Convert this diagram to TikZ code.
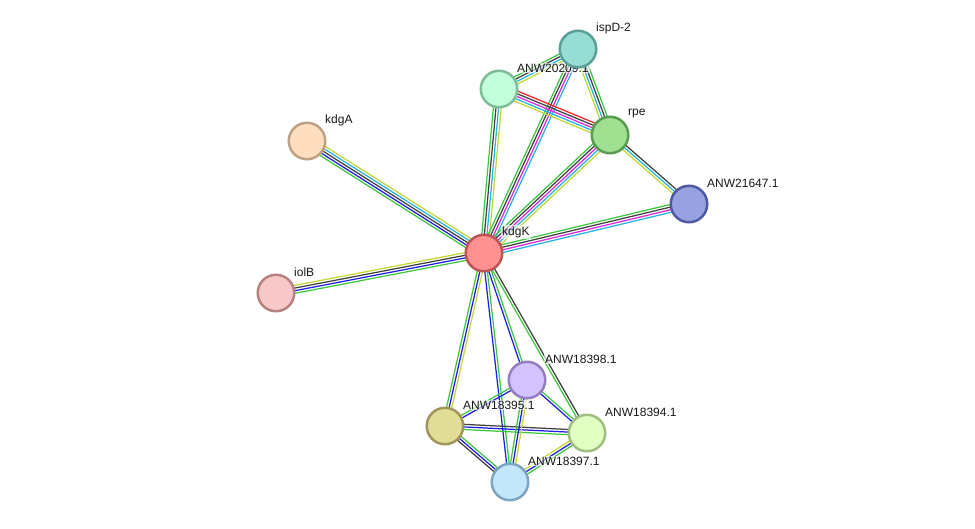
\documentclass[tikz,border=0pt]{standalone}
\usepackage{fontspec}
\setmainfont{Liberation Sans}
\usetikzlibrary{calc}
\definecolor{edgegreen}{RGB}{62,200,62}
\definecolor{edgeblue}{RGB}{30,30,235}
\definecolor{edgedark}{RGB}{65,65,65}
\definecolor{edgecyan}{RGB}{35,180,230}
\definecolor{edgemagenta}{RGB}{220,40,220}
\definecolor{edgeyellow}{RGB}{195,215,50}
\definecolor{edgered}{RGB}{245,35,35}
\definecolor{kdgkfill}{RGB}{255,145,145}
\definecolor{kdgkline}{RGB}{190,85,85}
\definecolor{ispdfill}{RGB}{150,222,212}
\definecolor{ispdline}{RGB}{90,160,150}
\definecolor{anwafill}{RGB}{195,255,220}
\definecolor{anwaline}{RGB}{125,190,150}
\definecolor{rpefill}{RGB}{160,225,145}
\definecolor{rpeline}{RGB}{90,155,80}
\definecolor{anwbfill}{RGB}{152,162,225}
\definecolor{anwbline}{RGB}{80,90,160}
\definecolor{kdgafill}{RGB}{255,222,192}
\definecolor{kdgaline}{RGB}{190,160,130}
\definecolor{iolbfill}{RGB}{248,200,200}
\definecolor{iolbline}{RGB}{185,130,130}
\definecolor{anwcfill}{RGB}{210,195,255}
\definecolor{anwcline}{RGB}{150,125,190}
\definecolor{anwdfill}{RGB}{225,220,150}
\definecolor{anwdline}{RGB}{160,150,90}
\definecolor{anwefill}{RGB}{225,255,195}
\definecolor{anweline}{RGB}{160,190,130}
\definecolor{anwffill}{RGB}{195,230,250}
\definecolor{anwfline}{RGB}{125,165,195}
\pgfdeclarelayer{edges}
\pgfdeclarelayer{labels}
\pgfsetlayers{edges,labels,main}
\newcommand{\linkedge}[3]{%
  \foreach \col [count=\k] in {#3} {\xdef\nlines{\k}}
  \foreach \col [count=\k] in {#3} {
    \pgfmathsetmacro{\off}{((\nlines+1)/2-\k)*2.6}
    \draw[\col,line width=1.25pt] ($(#1.center)!\off pt!90:(#2.center)$)
      -- ($(#2.center)!\off pt!-90:(#1.center)$);
  }
}

\begin{document}
\begin{tikzpicture}[x=1pt,y=-1pt,
  protein/.style={circle,draw=#1line,fill=#1fill,line width=2.5pt,
    minimum size=36.5pt,inner sep=0pt},
  plabel/.style={anchor=west,font=\fontsize{12}{14}\selectfont,
    text=black!90,inner sep=1pt,fill=white,fill opacity=.6,text opacity=1}]
  \useasboundingbox (0,0) rectangle (975,528);
  \node[protein=kdgk] (kdgK) at (484,253) {};
  \node[protein=ispd] (ispD2) at (578,49) {};
  \node[protein=anwa] (anw20209) at (499,89) {};
  \node[protein=rpe] (rpe) at (610,135) {};
  \node[protein=anwb] (anw21647) at (689,204) {};
  \node[protein=kdga] (kdgA) at (307,141) {};
  \node[protein=iolb] (iolB) at (276,293) {};
  \node[protein=anwc] (anw18398) at (527,380) {};
  \node[protein=anwd] (anw18395) at (445,426) {};
  \node[protein=anwe] (anw18394) at (587,433) {};
  \node[protein=anwf] (anw18397) at (510,482) {};
  \begin{pgfonlayer}{edges}
    \linkedge{kdgK}{kdgA}{edgegreen,edgeblue,edgedark,edgecyan,edgeyellow}
    \linkedge{kdgK}{iolB}{edgegreen,edgeblue,edgedark,edgeyellow}
    \linkedge{kdgK}{anw20209}{edgegreen,edgedark,edgecyan,edgeyellow}
    \linkedge{kdgK}{ispD2}{edgegreen,edgedark,edgemagenta,edgecyan}
    \linkedge{kdgK}{rpe}{edgegreen,edgedark,edgemagenta,edgecyan,edgeyellow}
    \linkedge{kdgK}{anw21647}{edgegreen,edgedark,edgemagenta,edgecyan}
    \linkedge{anw20209}{ispD2}{edgegreen,edgedark,edgecyan,edgeyellow}
    \linkedge{anw20209}{rpe}{edgered,edgedark,edgemagenta,edgecyan,edgeyellow}
    \linkedge{ispD2}{rpe}{edgegreen,edgedark,edgecyan,edgeyellow}
    \linkedge{rpe}{anw21647}{edgedark,edgecyan,edgeyellow}
    \linkedge{kdgK}{anw18395}{edgeyellow,edgeblue,edgegreen}
    \linkedge{kdgK}{anw18397}{edgegreen,edgeblue}
    \linkedge{kdgK}{anw18398}{edgegreen,edgeblue}
    \linkedge{kdgK}{anw18394}{edgedark,edgegreen}
    \linkedge{anw18395}{anw18398}{edgegreen,edgeblue}
    \linkedge{anw18395}{anw18394}{edgedark,edgeblue,edgegreen}
    \linkedge{anw18395}{anw18397}{edgegreen,edgeblue,edgedark}
    \linkedge{anw18398}{anw18394}{edgegreen,edgeblue}
    \linkedge{anw18398}{anw18397}{edgeyellow,edgeblue,edgegreen}
    \linkedge{anw18397}{anw18394}{edgeyellow,edgeblue,edgegreen}
  \end{pgfonlayer}
  \begin{pgfonlayer}{labels}
    \foreach \n/\t in {kdgK/kdgK,ispD2/ispD-2,anw20209/ANW20209.1,rpe/rpe,
      anw21647/ANW21647.1,kdgA/kdgA,iolB/iolB,anw18398/ANW18398.1,
      anw18395/ANW18395.1,anw18394/ANW18394.1,anw18397/ANW18397.1}
      \node[plabel] (\n-lbl) at ([shift={(17,-21)}]\n.center) {\t};
  \end{pgfonlayer}
\end{tikzpicture}
\end{document}
